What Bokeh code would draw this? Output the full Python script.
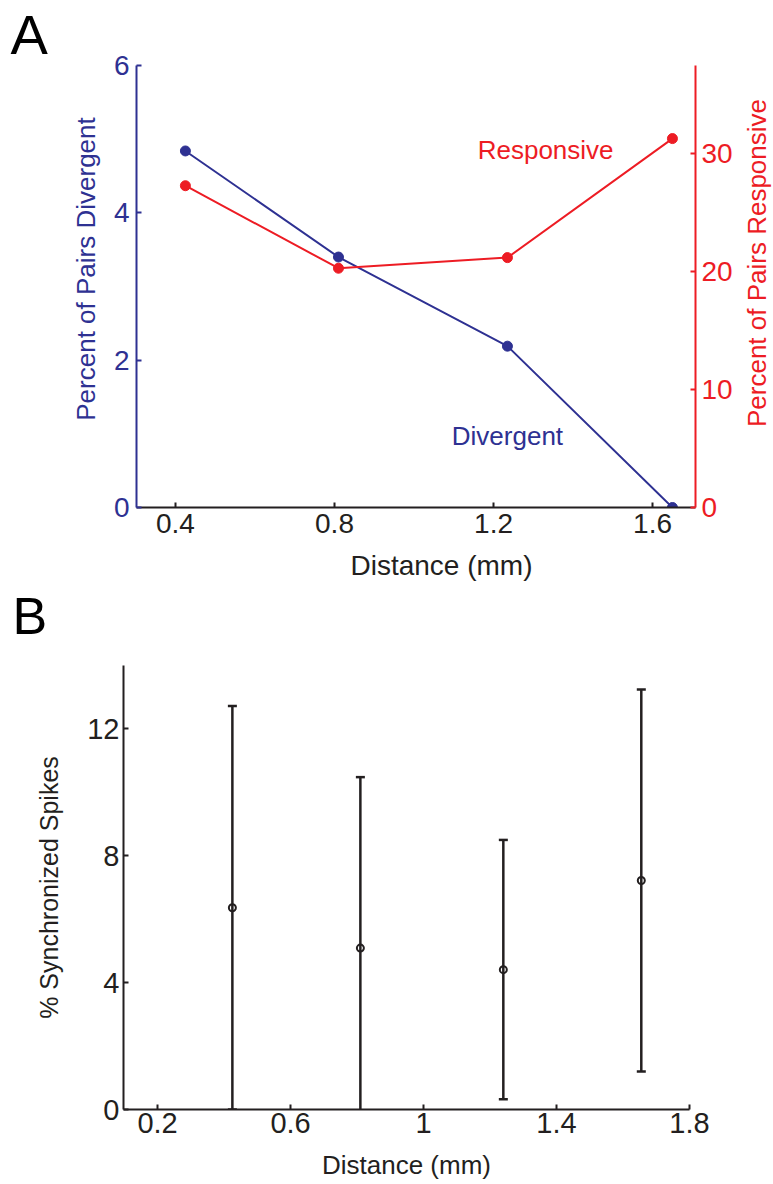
import math
from bokeh.plotting import figure
from bokeh.models import Range1d, LinearAxis, FixedTicker, Label
from bokeh.layouts import column, row
from bokeh.core.properties import value
from bokeh.embed import file_html
from bokeh.resources import INLINE

# ---------------- data ----------------
# Panel A
distance_mm = [0.425, 0.81, 1.235, 1.65]
pct_divergent = [4.84, 3.40, 2.19, 0.0]
pct_responsive = [27.3, 20.3, 21.2, 31.3]
a_xticks = [0.4, 0.8, 1.2, 1.6]
a_left_ticks = [0, 2, 4, 6]
a_right_ticks = [0, 10, 20, 30]

# Panel B
sync_distance_mm = [0.425, 0.81, 1.24, 1.655]
sync_mean = [6.36, 5.09, 4.41, 7.22]
sync_err = [6.36, 5.39, 4.09, 6.02]
b_xticks = [0.2, 0.6, 1.0, 1.4, 1.8]
b_xtick_labels = ["0.2", "0.6", "1", "1.4", "1.8"]
b_yticks = [0, 4, 8, 12]

# texts
panel_letters = ["A", "B"]
a_xlabel = "Distance (mm)"
a_left_label = "Percent of Pairs Divergent"
a_right_label = "Percent of Pairs Responsive"
b_xlabel = "Distance (mm)"
b_ylabel = "% Synchronized Spikes"

BLUE = "#2E3192"
RED = "#ED1C24"
BLACK = "#231F20"
FONT = "Liberation Sans"
W = 773


def style_axis(ax, color, tick_size, tick_standoff, label_size="26px", label_standoff=10):
    ax.axis_line_color = color
    ax.axis_line_width = 2
    ax.major_tick_line_color = color
    ax.major_tick_line_width = 2
    ax.major_tick_in = 5
    ax.major_tick_out = 0
    ax.minor_tick_line_color = None
    ax.major_label_text_color = color
    ax.major_label_text_font = FONT
    ax.major_label_text_font_size = tick_size
    ax.major_label_standoff = tick_standoff
    ax.axis_label_text_color = color
    ax.axis_label_text_font = FONT
    ax.axis_label_text_font_style = "normal"
    ax.axis_label_text_font_size = label_size
    ax.axis_label_standoff = label_standoff


def clean(f):
    f.xgrid.visible = False
    f.ygrid.visible = False
    f.outline_line_color = None
    f.background_fill_color = "white"
    f.border_fill_color = "white"


def page_fig(x0, x1, y0, y1):
    """A blank strip whose data coordinates are page pixels (y downwards)."""
    f = figure(width=x1 - x0, height=y1 - y0,
               x_range=Range1d(x0, x1), y_range=Range1d(y1, y0),
               x_axis_type=None, y_axis_type=None,
               output_backend="svg", toolbar_location=None,
               min_border=0, frame_align=False)
    f.outline_line_color = None
    f.background_fill_color = "white"
    f.border_fill_color = "white"
    return f


def add_text(f, x, y, txt, color, size, align="center", angle=0.0):
    f.text(x=[x], y=[y], text=[txt], angle=angle, text_color=color,
           text_font=value(FONT), text_font_size=value(size),
           text_align=align, text_baseline="middle")


# ---------------- Panel A ----------------
pa = figure(width=635, height=547,
            x_range=Range1d(0.302, 1.708), y_range=Range1d(0, 6),
            output_backend="svg", toolbar_location=None,
            min_border_left=31, min_border_right=45,
            min_border_top=65, min_border_bottom=40, frame_align=False)
pa.extra_y_ranges = {"resp": Range1d(0, 37.5)}
clean(pa)

pa.xaxis.ticker = FixedTicker(ticks=a_xticks)
style_axis(pa.xaxis[0], BLACK, "28px", 6)
pa.yaxis.ticker = FixedTicker(ticks=a_left_ticks)
style_axis(pa.yaxis[0], BLUE, "28px", 7)
ra = LinearAxis(y_range_name="resp", ticker=FixedTicker(ticks=a_right_ticks))
style_axis(ra, RED, "28px", 6)
pa.add_layout(ra, "right")

pa.line(distance_mm, pct_divergent, line_color=BLUE, line_width=2)
pa.scatter(distance_mm, pct_divergent, size=10, fill_color=BLUE, line_color=BLUE)
pa.line(distance_mm, pct_responsive, line_color=RED, line_width=2, y_range_name="resp")
pa.scatter(distance_mm, pct_responsive, size=10, fill_color=RED, line_color=RED,
           y_range_name="resp")

pa.add_layout(Label(x=1.331, y=4.853, text="Responsive", text_color=RED,
                    text_font=FONT, text_font_size="26px", text_align="center",
                    text_baseline="middle"))
pa.add_layout(Label(x=1.235, y=0.977, text="Divergent", text_color=BLUE,
                    text_font=FONT, text_font_size="26px", text_align="center",
                    text_baseline="middle"))

# strips around panel A (page pixel coordinates)
left_a = page_fig(0, 105, 0, 547)
add_text(left_a, 10, 34, panel_letters[0], "black", "56px", align="left")
add_text(left_a, 85, 268.5, a_left_label, BLUE, "26px", angle=math.pi / 2)

right_a = page_fig(740, W, 0, 547)
add_text(right_a, 756, 262.5, a_right_label, RED, "26px", angle=math.pi / 2)

mid = page_fig(0, W, 547, 650)
add_text(mid, 441, 565, a_xlabel, BLACK, "28px")
add_text(mid, 12, 615, panel_letters[1], "black", "52px", align="left")

# ---------------- Panel B ----------------
pb = figure(width=W, height=534,
            x_range=Range1d(0.0975, 1.8), y_range=Range1d(0, 14),
            output_backend="svg", toolbar_location=None,
            min_border_left=123, min_border_right=84,
            min_border_top=15, min_border_bottom=75, frame_align=False)
clean(pb)

pb.xaxis.ticker = FixedTicker(ticks=b_xticks)
pb.xaxis.major_label_overrides = {t: s for t, s in zip(b_xticks, b_xtick_labels)}
pb.xaxis.axis_label = b_xlabel
style_axis(pb.xaxis[0], BLACK, "29px", 3, "26px", 14)

pb.yaxis.ticker = FixedTicker(ticks=b_yticks)
pb.yaxis.axis_label = b_ylabel
style_axis(pb.yaxis[0], BLACK, "29px", 4, "25px", 21)

upper = [m + e for m, e in zip(sync_mean, sync_err)]
lower = [m - e for m, e in zip(sync_mean, sync_err)]
pb.segment(x0=sync_distance_mm, y0=lower, x1=sync_distance_mm, y1=upper,
           line_color=BLACK, line_width=2.5)
pb.scatter(sync_distance_mm, upper, marker="dash", size=9, line_color=BLACK, line_width=2.5)
pb.scatter(sync_distance_mm, lower, marker="dash", size=9, line_color=BLACK, line_width=2.5)
pb.scatter(sync_distance_mm, sync_mean, marker="circle", size=7, fill_color=None,
           line_color=BLACK, line_width=2)

layout = column(row(left_a, pa, right_a), mid, pb)
open("out.html", "w").write(file_html(layout, INLINE))
